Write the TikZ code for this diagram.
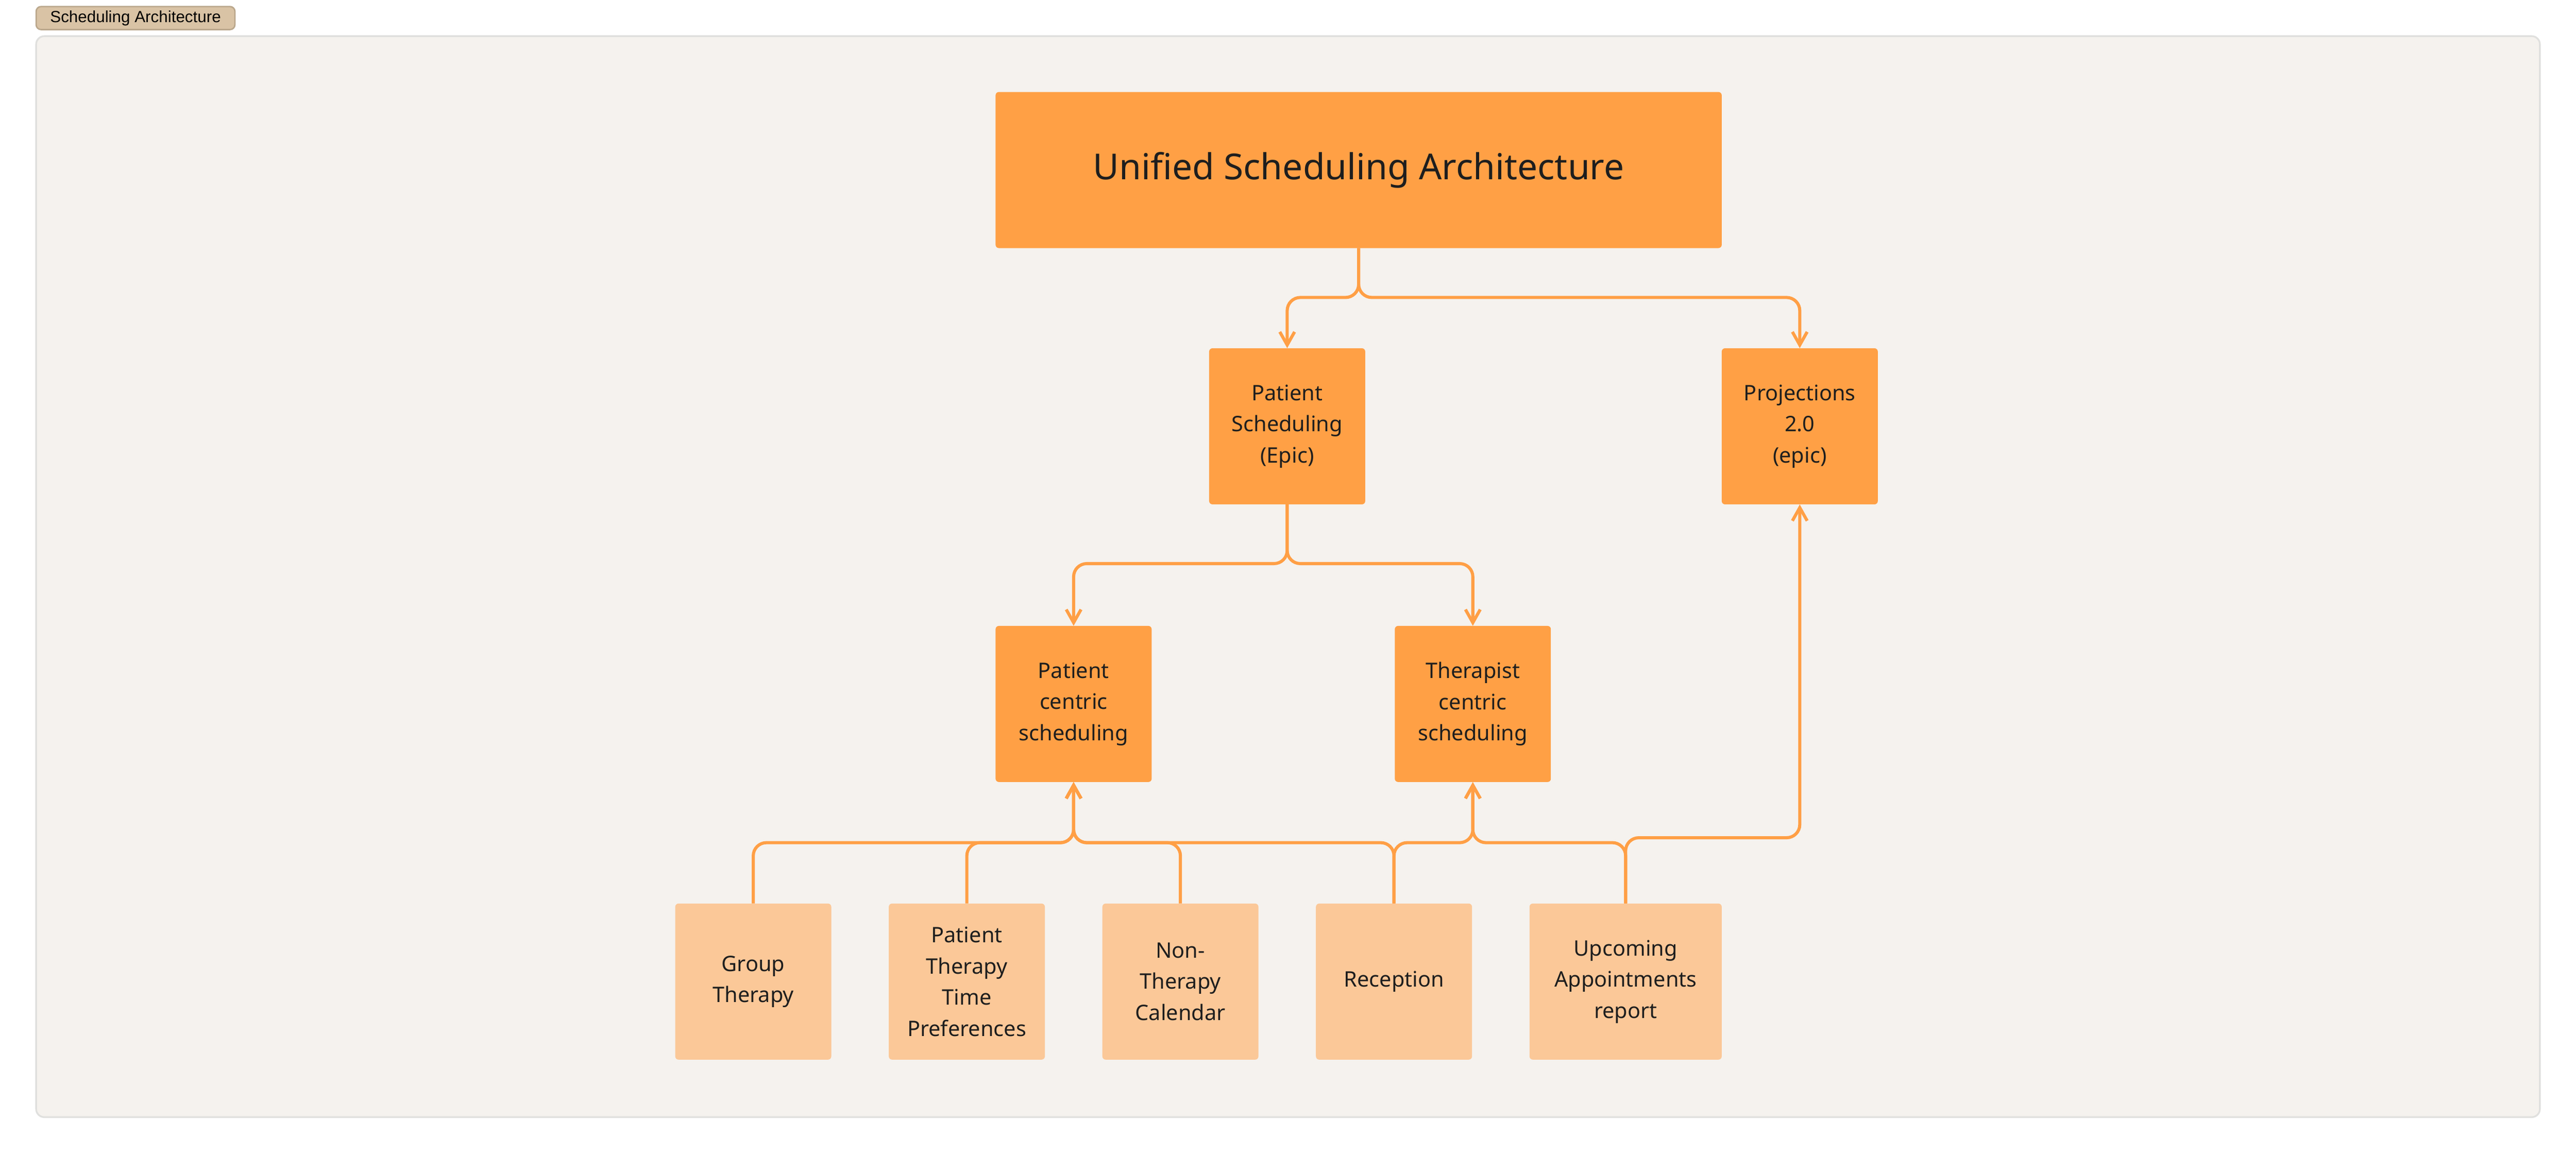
\documentclass[tikz,border=0pt]{standalone}
\usepackage{fontspec}
\setmainfont{Noto Sans}
\newfontfamily\tagfont{Liberation Sans}
\usetikzlibrary{arrows.meta}
\definecolor{boxdark}{HTML}{FFA045}
\definecolor{boxlight}{HTML}{FBC898}
\definecolor{linkcol}{HTML}{FF9F45}
\definecolor{framebg}{HTML}{F5F2EE}
\definecolor{frameline}{HTML}{E0E0DE}
\definecolor{tagbg}{HTML}{D9C3A5}
\definecolor{tagline}{HTML}{BBA88D}
\definecolor{ink}{HTML}{1E1E1E}
\tikzset{
  box/.style={rectangle,rounded corners=2mm,draw=none,align=center,text=ink,
    font=\fontsize{37}{54}\selectfont,inner sep=0pt},
  epic/.style={box,fill=boxdark,minimum width=95mm,minimum height=95mm},
  story/.style={box,fill=boxlight,minimum width=95mm,minimum height=95mm},
  link/.style={draw=linkcol,line width=5.4pt,rounded corners=8mm,
    -{Straight Barb[length=8mm,width=9mm,line width=5.4pt]}},
}
\begin{document}
\begin{tikzpicture}[x=1mm,y=-1mm]
  \useasboundingbox[fill=white] (0,0) rectangle (1568,701.7);
  \draw[fill=framebg,draw=frameline,line width=3pt,rounded corners=5mm] (22,22) rectangle (1546,680);
  \node[draw=tagline,fill=tagbg,line width=2.5pt,rounded corners=3mm,minimum width=121mm,
    minimum height=14mm,inner sep=0pt,font=\tagfont\fontsize{28}{30}\selectfont] (tag) at (82.5,11) {Scheduling Architecture};

  \node[box,fill=boxdark,minimum width=442mm,minimum height=95mm,font=\fontsize{62}{70}\selectfont] (usa) at (827,103.5)
    {\textbf{Unified} Scheduling Architecture};
  \node[epic] (psched) at (783.5,259.5) {Patient\\Scheduling\\(Epic)};
  \node[epic] (proj) at (1095.5,259.5) {Projections\\2.0\\(epic)};
  \node[epic] (pcs) at (653.5,428.5) {Patient\\centric\\scheduling};
  \node[epic] (tcs) at (896.5,428.5) {Therapist\\centric\\scheduling};

  \node[story] (group) at (458.5,597.5) {Group\\Therapy};
  \node[story] (ptpref) at (588.5,597.5) {Patient\\Therapy\\Time\\Preferences};
  \node[story] (nontc) at (718.5,597.5) {Non-\\Therapy\\Calendar};
  \node[story] (recep) at (848.5,597.5) {Reception};
  \node[story,minimum width=117mm] (upcoming) at (989.5,597.5) {Upcoming\\Appointments\\\textbf{report}};

  % top level split
  \draw[link] (usa.south) -- ++(0,30) -| (psched.north);
  \draw[link] (usa.south) -- ++(0,30) -| (proj.north);
  \draw[link] (psched.south) -- ++(0,36) -| (pcs.north);
  \draw[link] (psched.south) -- ++(0,36) -| (tcs.north);

  % stories up to epics
  \draw[link] (group.north) -- ++(0,-37) -| (pcs.south);
  \draw[link] (ptpref.north) -- ++(0,-37) -| (pcs.south);
  \draw[link] (nontc.north) -- ++(0,-37) -| (pcs.south);
  \draw[link] (recep.north) -- ++(0,-37) -| (pcs.south);
  \draw[link] (recep.north) -- ++(0,-37) -| (tcs.south);
  \draw[link] (upcoming.north) -- ++(0,-37) -| (tcs.south);
  \draw[link] (upcoming.north) -- ++(0,-40) -| (proj.south);
\end{tikzpicture}
\end{document}
